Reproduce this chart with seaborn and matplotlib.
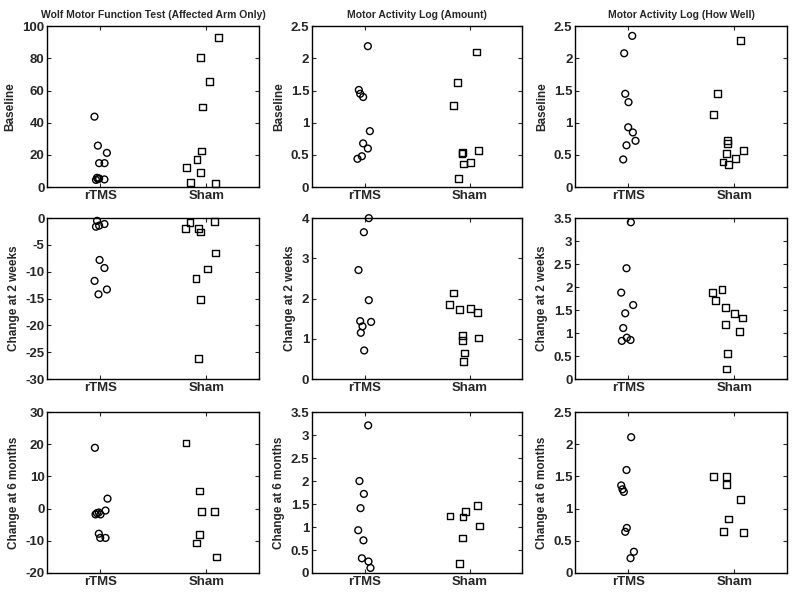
import numpy as np
import pandas as pd
import matplotlib
matplotlib.use("Agg")
import matplotlib.pyplot as plt
import seaborn as sns
from matplotlib.ticker import FuncFormatter

groups = ["rTMS", "Sham"]
titles = ["Wolf Motor Function Test (Affected Arm Only)", "Motor Activity Log (Amount)", "Motor Activity Log (How Well)"]
row_labels = ["Baseline", "Change at 2 weeks", "Change at 6 months"]

# ---- values (y) and horizontal offsets (dx) ----
# Row 1: Baseline
wolf_base_rtms = [43.8, 25.8, 21.3, 14.9, 14.9, 5.8, 5.4, 4.5, 4.8, 5.0]
wolf_base_rtms_dx = [-0.054, -0.022, 0.063, -0.01, 0.041, -0.03, -0.01, -0.04, 0.04, -0.02]
wolf_base_sham = [92.8, 80.8, 65.7, 49.8, 22.5, 17.4, 12.0, 8.9, 3.1, 2.3]
wolf_base_sham_dx = [0.114, -0.054, 0.029, -0.038, -0.041, -0.086, -0.184, -0.054, -0.146, 0.089]

mala_base_rtms = [2.19, 1.51, 1.45, 1.40, 0.87, 0.68, 0.60, 0.48, 0.44]
mala_base_rtms_dx = [0.032, -0.054, -0.041, -0.013, 0.051, -0.013, 0.032, -0.025, -0.067]
mala_base_sham = [2.10, 1.62, 1.27, 0.54, 0.52, 0.57, 0.38, 0.36, 0.13]
mala_base_sham_dx = [0.067, -0.111, -0.152, -0.067, -0.072, 0.083, 0.01, -0.054, -0.105]

malh_base_rtms = [2.35, 2.08, 1.45, 1.32, 0.93, 0.85, 0.72, 0.65, 0.43]
malh_base_rtms_dx = [0.038, -0.038, -0.028, 0.003, 0.0, 0.044, 0.069, -0.016, -0.047]
malh_base_sham = [2.28, 1.46, 1.13, 0.72, 0.68, 0.52, 0.45, 0.57, 0.39, 0.35]
malh_base_sham_dx = [0.059, -0.159, -0.194, -0.063, -0.066, -0.075, 0.009, 0.084, -0.106, -0.053]

# Row 2: Change at 2 weeks
wolf_2w_rtms = [-0.5, -1.6, -1.4, -1.1, -7.8, -9.3, -11.7, -14.2, -13.3]
wolf_2w_rtms_dx = [-0.03, -0.04, -0.01, 0.04, -0.006, 0.04, -0.053, -0.016, 0.063]
wolf_2w_sham = [-0.75, -0.6, -2.0, -2.0, -2.6, -6.5, -9.5, -11.3, -15.1, -26.1]
wolf_2w_sham_dx = [-0.153, 0.075, -0.197, -0.072, -0.053, 0.088, 0.016, -0.097, -0.05, -0.069]

mala_2w_rtms = [4.0, 3.65, 2.71, 1.96, 1.44, 1.31, 1.42, 1.15, 0.71]
mala_2w_rtms_dx = [0.041, -0.006, -0.057, 0.041, -0.041, -0.019, 0.063, -0.035, -0.003]
mala_2w_sham = [2.14, 1.86, 1.72, 1.76, 1.66, 1.08, 0.95, 1.02, 0.65, 0.43]
mala_2w_sham_dx = [-0.155, -0.192, -0.095, 0.013, 0.073, -0.066, -0.066, 0.085, -0.044, -0.054]

malh_2w_rtms = [3.41, 2.41, 1.88, 1.61, 1.43, 1.11, 0.90, 0.83, 0.85]
malh_2w_rtms_dx = [0.025, -0.016, -0.066, 0.047, -0.028, -0.047, -0.013, -0.06, 0.022]
malh_2w_sham = [1.88, 1.95, 1.71, 1.55, 1.42, 1.33, 1.18, 1.03, 0.56, 0.22]
malh_2w_sham_dx = [-0.204, -0.116, -0.173, -0.079, 0.0, 0.079, -0.085, 0.053, -0.063, -0.072]

# Row 3: Change at 6 months
wolf_6m_rtms = [18.9, 3.1, -0.6, -1.4, -1.2, -1.8, -1.8, -7.8, -9.1, -9.1]
wolf_6m_rtms_dx = [-0.05, 0.069, 0.05, -0.031, -0.013, -0.044, 0.003, -0.013, 0.0, 0.05]
wolf_6m_sham = [20.4, 5.5, -0.9, -0.8, -8.1, -10.7, -15.0]
wolf_6m_sham_dx = [-0.19, -0.063, -0.041, 0.078, -0.063, -0.091, 0.094]

mala_6m_rtms = [3.21, 2.0, 1.72, 1.41, 0.93, 0.71, 0.32, 0.25, 0.11]
mala_6m_rtms_dx = [0.035, -0.048, -0.006, -0.038, -0.06, -0.01, -0.025, 0.038, 0.057]
mala_6m_sham = [1.24, 1.22, 1.33, 1.46, 1.02, 0.76, 0.20]
mala_6m_sham_dx = [-0.185, -0.061, -0.035, 0.076, 0.099, -0.064, -0.092]

malh_6m_rtms = [2.11, 1.60, 1.36, 1.30, 1.26, 0.70, 0.64, 0.33, 0.23]
malh_6m_rtms_dx = [0.028, -0.016, -0.066, -0.054, -0.041, -0.013, -0.028, 0.054, 0.022]
malh_6m_sham = [1.50, 1.50, 1.37, 1.14, 0.84, 0.64, 0.63]
malh_6m_sham_dx = [-0.199, -0.069, -0.076, 0.057, -0.054, -0.104, 0.088]

panels = [
    [(wolf_base_rtms, wolf_base_rtms_dx, wolf_base_sham, wolf_base_sham_dx, (0, 100), np.arange(0, 101, 20)),
     (mala_base_rtms, mala_base_rtms_dx, mala_base_sham, mala_base_sham_dx, (0, 2.5), np.arange(0, 2.51, 0.5)),
     (malh_base_rtms, malh_base_rtms_dx, malh_base_sham, malh_base_sham_dx, (0, 2.5), np.arange(0, 2.51, 0.5))],
    [(wolf_2w_rtms, wolf_2w_rtms_dx, wolf_2w_sham, wolf_2w_sham_dx, (-30, 0), np.arange(-30, 0.1, 5)),
     (mala_2w_rtms, mala_2w_rtms_dx, mala_2w_sham, mala_2w_sham_dx, (0, 4), np.arange(0, 4.1, 1)),
     (malh_2w_rtms, malh_2w_rtms_dx, malh_2w_sham, malh_2w_sham_dx, (0, 3.5), np.arange(0, 3.51, 0.5))],
    [(wolf_6m_rtms, wolf_6m_rtms_dx, wolf_6m_sham, wolf_6m_sham_dx, (-20, 30), np.arange(-20, 30.1, 10)),
     (mala_6m_rtms, mala_6m_rtms_dx, mala_6m_sham, mala_6m_sham_dx, (0, 3.5), np.arange(0, 3.51, 0.5)),
     (malh_6m_rtms, malh_6m_rtms_dx, malh_6m_sham, malh_6m_sham_dx, (0, 2.5), np.arange(0, 2.51, 0.5))],
]

sns.set_style("ticks")
plt.rcParams['font.family'] = ['Liberation Sans', 'DejaVu Sans']
plt.rcParams['font.weight'] = 'bold'

fig = plt.figure(figsize=(8.0, 5.96), dpi=100)
lefts = [0.059, 0.390, 0.719]
widths = [0.265, 0.2625, 0.265]
bottoms = [0.686, 0.364, 0.0386]
height = 0.270

fmt = FuncFormatter(lambda v, p: ('%g' % round(v, 3)))

for r in range(3):
    for c in range(3):
        yr, dxr, ys, dxs, ylim, yticks = panels[r][c]
        ax = fig.add_axes([lefts[c], bottoms[r], widths[c], height])
        df = pd.DataFrame({
            "x": [1 + d for d in dxr] + [2 + d for d in dxs],
            "y": list(yr) + list(ys),
            "group": ["rTMS"] * len(yr) + ["Sham"] * len(ys),
        })
        sns.scatterplot(data=df, x="x", y="y", style="group", markers={"rTMS": "o", "Sham": "s"},
                        ax=ax, s=24, facecolor="none", edgecolor="black", linewidth=1.0,
                        legend=False, clip_on=False)
        for coll in ax.collections:
            coll.set_facecolor("none")
            coll.set_edgecolor("black")
        ax.set_xlim(0.5, 2.5)
        ax.set_ylim(*ylim)
        ax.set_xticks([1, 2])
        ax.set_xticklabels(groups)
        ax.set_yticks(yticks)
        ax.yaxis.set_major_formatter(fmt)
        ax.set_xlabel("")
        ax.set_ylabel(row_labels[r], fontsize=8.5, fontweight='bold', labelpad=4)
        ax.tick_params(direction="in", top=True, right=True, length=3, width=0.8,
                       labelsize=9.5, pad=2)
        for lab in ax.get_xticklabels() + ax.get_yticklabels():
            lab.set_fontweight('bold')
        for sp in ax.spines.values():
            sp.set_visible(True)
            sp.set_linewidth(1.0)
            sp.set_color("black")
        if r == 0:
            ax.set_title(titles[c], fontsize=7.5, fontweight='bold', pad=6)

fig.savefig("out.png", dpi=100)
